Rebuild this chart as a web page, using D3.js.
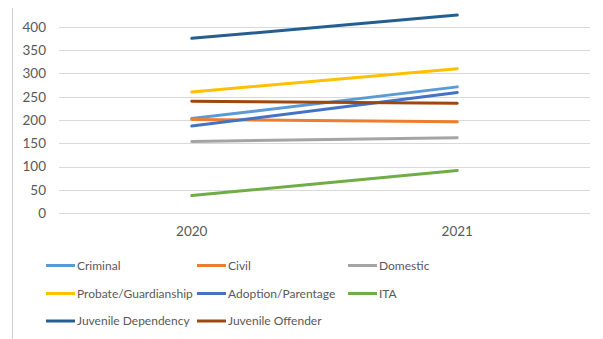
<!DOCTYPE html>
<html>
<head>
<meta charset="utf-8">
<script src="https://cdn.jsdelivr.net/npm/d3@7"></script>
<style>
  html, body { margin: 0; padding: 0; background: #fff; }
  svg { display: block; }
  text { font-family: Lato, "Open Sans", sans-serif; fill: #595959; }
</style>
</head>
<body>
<svg id="chart" width="603" height="339"></svg>
<script>
// Case filings by court type, 2020 vs 2021
const years = ["2020", "2021"];
const seriesNames = [
  "Criminal", "Civil", "Domestic",
  "Probate/Guardianship", "Adoption/Parentage", "ITA",
  "Juvenile Dependency", "Juvenile Offender"
];
const criminal = [203, 271];
const civil = [201, 196];
const domestic = [154, 162];
const probate = [260, 310];
const adoption = [187, 259];
const ita = [38, 92];
const juvDependency = [375, 425];
const juvOffender = [240, 236];
const yTicks = [0, 50, 100, 150, 200, 250, 300, 350, 400];
const colors = ["#5B9BD5", "#ED7D31", "#A5A5A5", "#FFC000", "#4472C4", "#70AD47", "#255E91", "#9E480E"];

const seriesValues = [criminal, civil, domestic, probate, adoption, ita, juvDependency, juvOffender];
const series = seriesNames.map((name, i) => ({
  name, color: colors[i],
  points: years.map((yr, j) => ({ year: yr, value: seriesValues[i][j] }))
}));

const svg = d3.select("#chart");

// frame edge on the left
svg.append("line")
  .attr("x1", 12.5).attr("x2", 12.5).attr("y1", 8).attr("y2", 339)
  .attr("stroke", "#d0d0d0").attr("stroke-width", 1);

const x = d3.scaleBand().domain(years).range([59, 590]);
const y = d3.scaleLinear().domain([0, 400]).range([213.3, 26.7]);

// horizontal gridlines
svg.append("g").selectAll("line").data(yTicks).join("line")
  .attr("x1", 59).attr("x2", 590)
  .attr("y1", d => Math.round(y(d)) + 0.5).attr("y2", d => Math.round(y(d)) + 0.5)
  .attr("stroke", "#d9d9d9").attr("stroke-width", 1);

// y axis labels
const yAxis = d3.axisLeft(y).tickValues(yTicks).tickSize(0).tickPadding(0);
const gy = svg.append("g").attr("transform", "translate(46,0)").call(yAxis);
gy.select(".domain").remove();
gy.selectAll("text").attr("font-size", 13.5).style("font-family", "Lato, sans-serif").attr("fill", "#595959");

// x axis labels
const xAxis = d3.axisBottom(x).tickSize(0).tickPadding(0);
const gx = svg.append("g").attr("transform", "translate(0,226)").call(xAxis);
gx.select(".domain").remove();
gx.selectAll("text").attr("font-size", 13.5).style("font-family", "Lato, sans-serif").attr("fill", "#595959");

// series lines
const line = d3.line()
  .x(d => x(d.year) + x.bandwidth() / 2)
  .y(d => y(d.value));

svg.append("g").selectAll("path").data(series).join("path")
  .attr("d", d => line(d.points))
  .attr("fill", "none")
  .attr("stroke", d => d.color)
  .attr("stroke-width", 3)
  .attr("stroke-linecap", "round");

// legend
const colX = [46, 197, 348];
const rowY = [265.5, 293.5, 321];
const lg = svg.append("g").selectAll("g").data(series).join("g")
  .attr("transform", (d, i) => `translate(${colX[i % 3]},${rowY[Math.floor(i / 3)]})`);
lg.append("line")
  .attr("x1", 0).attr("x2", 29).attr("y1", 0).attr("y2", 0)
  .attr("stroke", d => d.color).attr("stroke-width", 3);
lg.append("text")
  .attr("x", 31).attr("y", 0).attr("dy", "0.35em")
  .attr("font-size", 12)
  .text(d => d.name);
</script>
</body>
</html>
